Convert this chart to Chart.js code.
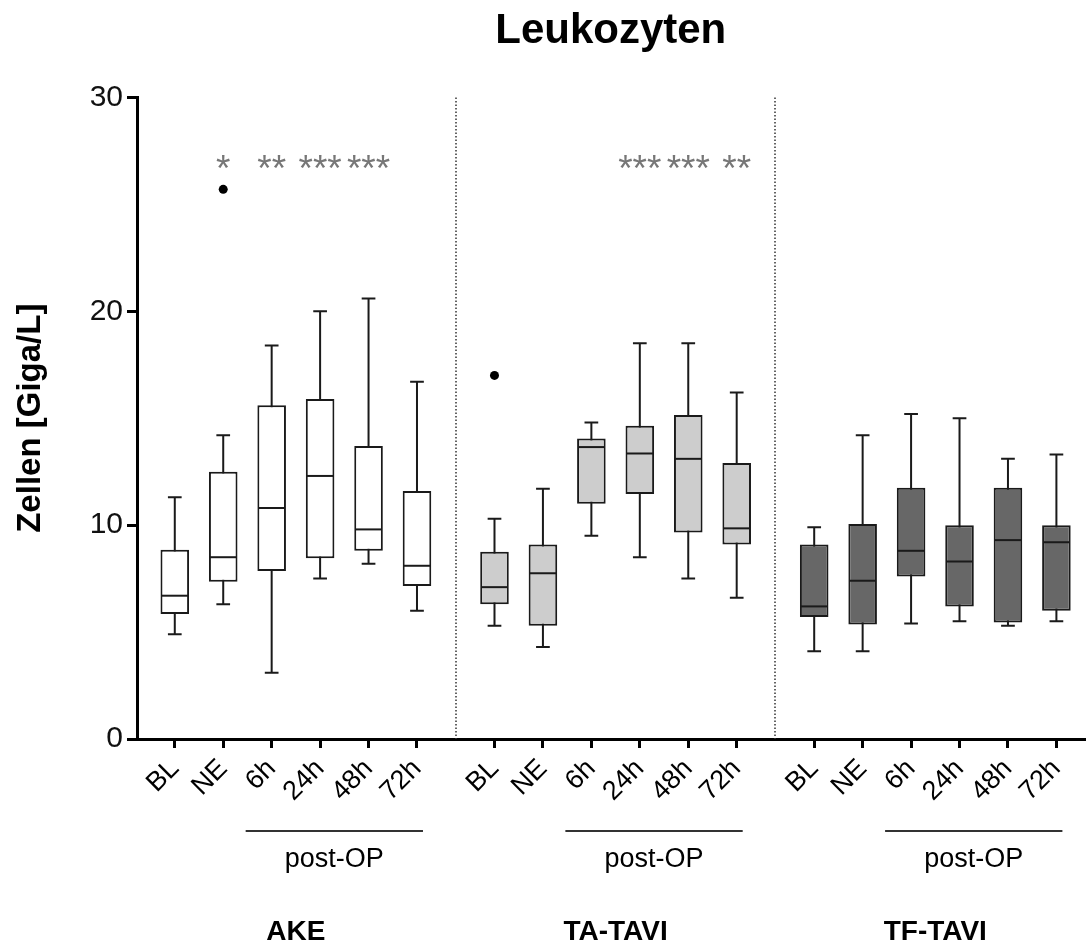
<!DOCTYPE html>
<html>
<head>
<meta charset="utf-8">
<title>Leukozyten</title>
<script src="https://cdn.jsdelivr.net/npm/chart.js@4.4.1/dist/chart.umd.min.js"></script>
<style>
  body { margin: 0; background: #fff; }
  canvas { display: block; }
</style>
</head>
<body>
<canvas id="chart" width="1089" height="945"></canvas>
<script>
const timepoints = ['BL', 'NE', '6h', '24h', '48h', '72h']
const groups = ['AKE', 'TA-TAVI', 'TF-TAVI']

// AKE
const akeMin = [4.9, 6.3, 3.1, 7.5, 8.2, 6.0]
const akeQ1 = [5.85, 7.35, 7.85, 8.45, 8.8, 7.15]
const akeMedian = [6.7, 8.5, 10.8, 12.3, 9.8, 8.1]
const akeQ3 = [8.85, 12.5, 15.6, 15.9, 13.7, 11.6]
const akeMax = [11.3, 14.2, 18.4, 20.0, 20.6, 16.7]
const akeOutliers = [null, 25.7, null, null, null, null]
const akeSig = ['', '*', '**', '***', '***', '']

// TA-TAVI
const taMin = [5.3, 4.3, 9.5, 8.5, 7.5, 6.6]
const taQ1 = [6.3, 5.3, 11.0, 11.45, 9.65, 9.1]
const taMedian = [7.1, 7.75, 13.65, 13.35, 13.1, 9.85]
const taQ3 = [8.75, 9.1, 14.05, 14.65, 15.15, 12.9]
const taMax = [10.3, 11.7, 14.8, 18.5, 18.5, 16.2]
const taOutliers = [17.0, null, null, null, null, null]
const taSig = ['', '', '', '***', '***', '**']

// TF-TAVI
const tfMin = [4.1, 4.1, 5.4, 5.5, 5.3, 5.5]
const tfQ1 = [5.7, 5.35, 7.6, 6.2, 5.45, 6.0]
const tfMedian = [6.2, 7.4, 8.8, 8.3, 9.3, 9.2]
const tfQ3 = [9.1, 10.05, 11.75, 10.0, 11.75, 10.0]
const tfMax = [9.9, 14.2, 15.2, 15.0, 13.1, 13.3]
const tfOutliers = [null, null, null, null, null, null]
const tfSig = ['', '', '', '', '', '']

const stats = [
  { min: akeMin, q1: akeQ1, med: akeMedian, q3: akeQ3, max: akeMax, out: akeOutliers, sig: akeSig },
  { min: taMin, q1: taQ1, med: taMedian, q3: taQ3, max: taMax, out: taOutliers, sig: taSig },
  { min: tfMin, q1: tfQ1, med: tfMedian, q3: tfQ3, max: tfMax, out: tfOutliers, sig: tfSig }
]

const boxColors = ['#ffffff', '#cdcdcd', '#676767']
const lineColor = '#1a1a1a'
const groupStep = 6.6          // distance between the first boxes of two groups
const sigLevel = 27            // height of the significance stars
const xPos = (g, i) => g * groupStep + i
const tickPositions = groups.flatMap((_, g) => timepoints.map((_, i) => xPos(g, i)))

Chart.defaults.font.family = "'Liberation Sans', Arial, Helvetica, sans-serif"
Chart.defaults.color = '#000'

const boxDatasets = stats.map((s, g) => ({
  label: groups[g],
  data: timepoints.map((_, i) => ({ x: xPos(g, i), y: [s.q1[i], s.q3[i]] })),
  backgroundColor: boxColors[g],
  borderColor: lineColor,
  borderWidth: 2,
  borderSkipped: false,
  grouped: false,
  barPercentage: 0.59,
  categoryPercentage: 1
}))

const outlierDatasets = stats.map((s, g) => ({
  type: 'scatter',
  label: groups[g] + ' Ausreißer',
  data: s.out.map((v, i) => v == null ? null : { x: xPos(g, i), y: v }).filter(p => p),
  pointRadius: 4.5,
  pointBackgroundColor: '#000',
  pointBorderWidth: 0
}))

// whiskers, medians, separators, stars and the group labels under the axis
const boxPlotParts = {
  id: 'boxPlotParts',
  beforeDatasetsDraw(chart) {
    const { ctx, chartArea, scales: { x, y } } = chart
    ctx.save()
    ctx.strokeStyle = '#333'
    ctx.lineWidth = 1.5
    ctx.setLineDash([1.5, 2])
    for (let g = 1; g < groups.length; g++) {
      const px = Math.round(x.getPixelForValue(g * groupStep - (groupStep - timepoints.length + 1) / 2))
      ctx.beginPath()
      ctx.moveTo(px, chartArea.top)
      ctx.lineTo(px, chartArea.bottom)
      ctx.stroke()
    }
    ctx.setLineDash([])
    ctx.strokeStyle = lineColor
    ctx.lineWidth = 2
    stats.forEach((s, g) => {
      chart.getDatasetMeta(g).data.forEach((bar, i) => {
        const top = y.getPixelForValue(s.max[i])
        const bottom = y.getPixelForValue(s.min[i])
        const cap = bar.width * 0.24
        ctx.beginPath()
        ctx.moveTo(bar.x, top); ctx.lineTo(bar.x, bottom)
        ctx.moveTo(bar.x - cap, top); ctx.lineTo(bar.x + cap, top)
        ctx.moveTo(bar.x - cap, bottom); ctx.lineTo(bar.x + cap, bottom)
        ctx.stroke()
      })
    })
    ctx.restore()
  },
  afterDatasetsDraw(chart) {
    const { ctx, scales: { x, y } } = chart
    ctx.save()
    ctx.strokeStyle = lineColor
    ctx.lineWidth = 2
    stats.forEach((s, g) => {
      chart.getDatasetMeta(g).data.forEach((bar, i) => {
        const ym = y.getPixelForValue(s.med[i])
        ctx.beginPath()
        ctx.moveTo(bar.x - bar.width / 2 + 1, ym)
        ctx.lineTo(bar.x + bar.width / 2 - 1, ym)
        ctx.stroke()
      })
    })
    ctx.fillStyle = '#777'
    ctx.font = "37px 'Liberation Sans', Arial, sans-serif"
    ctx.textAlign = 'center'
    ctx.textBaseline = 'alphabetic'
    const yc = y.getPixelForValue(sigLevel)
    stats.forEach((s, g) => {
      s.sig.forEach((t, i) => {
        if (!t) return
        const m = ctx.measureText(t)
        ctx.fillText(t, x.getPixelForValue(xPos(g, i)), yc + (m.actualBoundingBoxAscent - m.actualBoundingBoxDescent) / 2)
      })
    })
    ctx.restore()
  },
  afterDraw(chart) {
    const { ctx, chartArea, scales: { x } } = chart
    const base = chartArea.bottom
    ctx.save()
    ctx.textAlign = 'center'
    ctx.textBaseline = 'alphabetic'
    ctx.fillStyle = '#000'
    groups.forEach((name, g) => {
      const x0 = x.getPixelForValue(xPos(g, 2)) - 26
      const x1 = x.getPixelForValue(xPos(g, 5)) + 6
      ctx.strokeStyle = '#333'
      ctx.lineWidth = 2
      ctx.beginPath()
      ctx.moveTo(x0, base + 92)
      ctx.lineTo(x1, base + 92)
      ctx.stroke()
      ctx.font = "27px 'Liberation Sans', Arial, sans-serif"
      ctx.fillText('post-OP', (x0 + x1) / 2, base + 128)
      ctx.font = "bold 28px 'Liberation Sans', Arial, sans-serif"
      ctx.fillText(name, x.getPixelForValue(xPos(g, 2.5)), base + 201)
    })
    ctx.restore()
  }
}

new Chart(document.getElementById('chart'), {
  type: 'bar',
  data: { datasets: [...boxDatasets, ...outlierDatasets] },
  options: {
    responsive: false,
    animation: false,
    layout: { padding: 0 },
    plugins: {
      legend: { display: false },
      tooltip: { enabled: false },
      title: {
        display: true,
        fullSize: false,
        text: 'Leukozyten',
        color: '#000',
        font: { size: 42, weight: 'bold' },
        padding: { top: 6, bottom: 41 }
      }
    },
    scales: {
      x: {
        type: 'linear',
        offset: false,
        min: -0.78,
        max: 18.78,
        afterBuildTicks: scale => { scale.ticks = tickPositions.map(v => ({ value: v })) },
        afterFit: scale => { scale.height = 206 },
        grid: { display: true, offset: false, drawOnChartArea: false, tickLength: 9, lineWidth: 3, color: '#000' },
        border: { display: true, width: 3, color: '#000' },
        ticks: {
          autoSkip: false,
          maxRotation: 45,
          minRotation: 45,
          padding: 5,
          color: '#000',
          font: { size: 27 },
          callback: (v, i) => timepoints[i % timepoints.length]
        }
      },
      y: {
        min: 0,
        max: 30,
        afterFit: scale => { scale.width = 137 },
        grid: { display: true, drawOnChartArea: false, tickLength: 10, lineWidth: 3, color: '#000' },
        border: { display: true, width: 3, color: '#000' },
        ticks: { stepSize: 10, padding: 4, color: '#111', font: { size: 30 } },
        title: {
          display: true,
          text: 'Zellen [Giga/L]',
          color: '#000',
          font: { size: 33, weight: 'bold' },
          padding: { top: 11, bottom: 0 }
        }
      }
    }
  },
  plugins: [boxPlotParts]
})
</script>
</body>
</html>
